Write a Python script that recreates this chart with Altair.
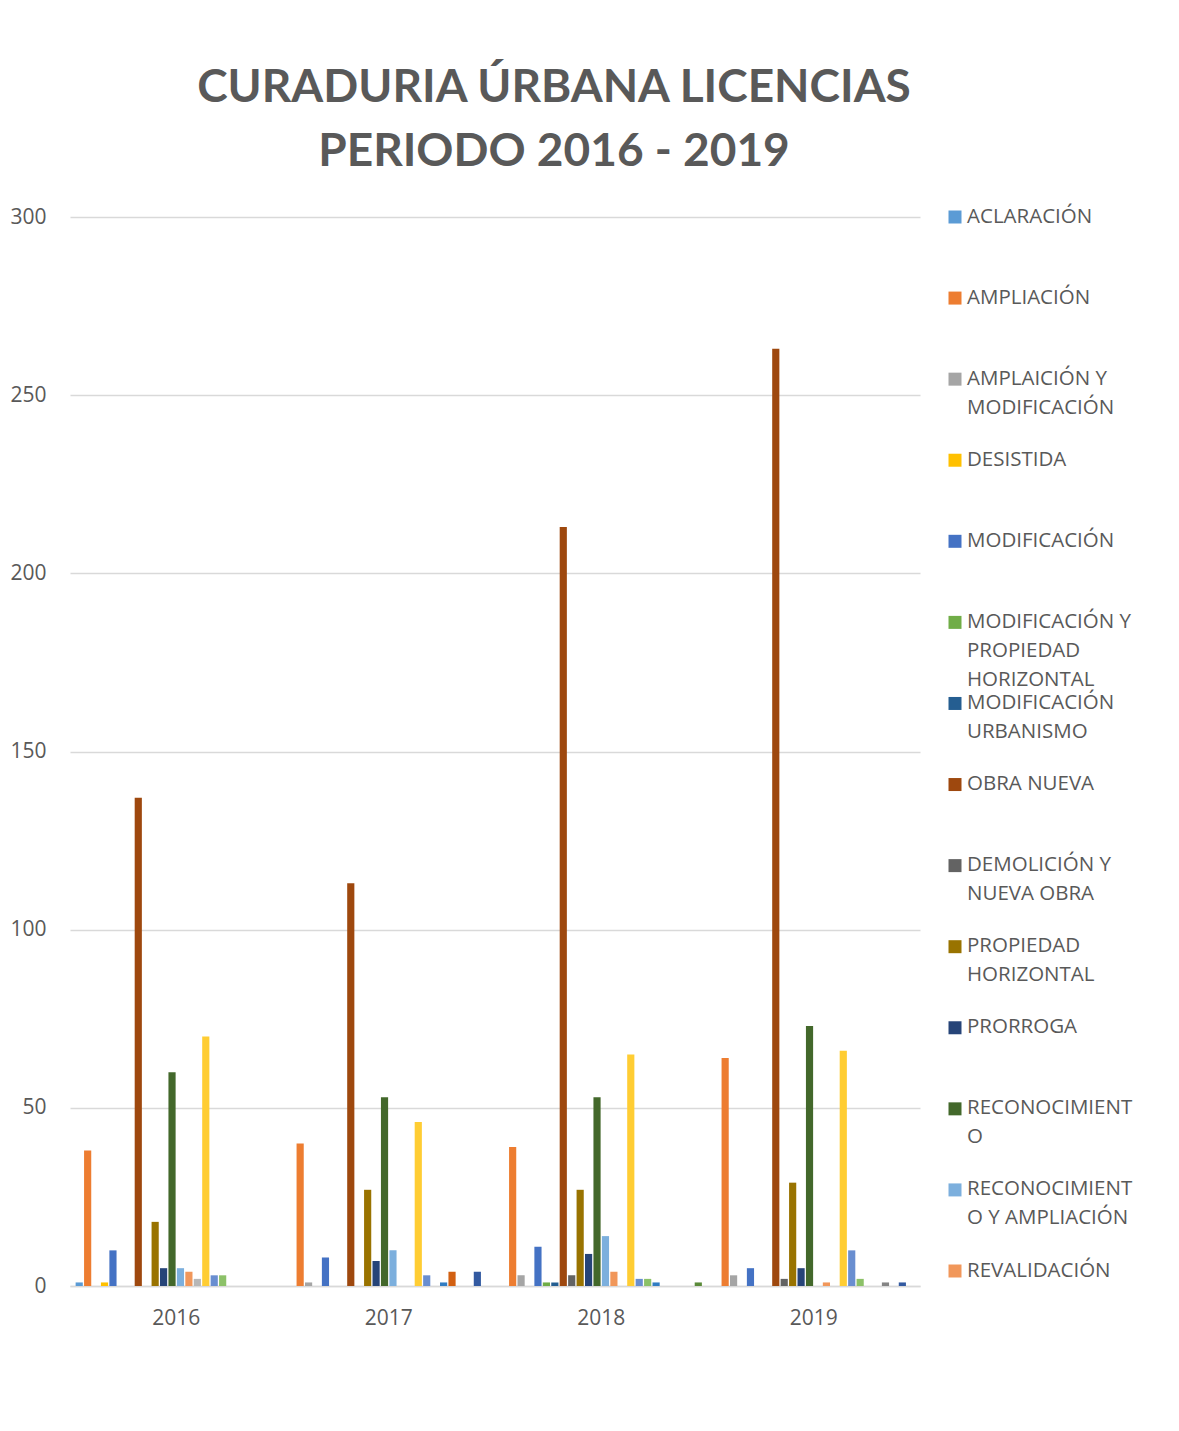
import altair as alt
import pandas as pd

years = ["2016", "2017", "2018", "2019"]

series = [
    "ACLARACIÓN", "AMPLIACIÓN", "AMPLAICIÓN Y MODIFICACIÓN", "DESISTIDA",
    "MODIFICACIÓN", "MODIFICACIÓN Y PROPIEDAD HORIZONTAL", "MODIFICACIÓN URBANISMO",
    "OBRA NUEVA", "DEMOLICIÓN Y NUEVA OBRA", "PROPIEDAD HORIZONTAL", "PRORROGA",
    "RECONOCIMIENTO", "RECONOCIMIENTO Y AMPLIACIÓN", "REVALIDACIÓN",
    "SERIE 15", "SERIE 16", "SERIE 17", "SERIE 18", "SERIE 19",
    "SERIE 20", "SERIE 21", "SERIE 22", "SERIE 23", "SERIE 24",
]

colors = [
    "#5B9BD5", "#ED7D31", "#A5A5A5", "#FFC000", "#4472C4", "#70AD47",
    "#255E91", "#9E480E", "#636363", "#997300", "#264478", "#43682B",
    "#7CAFDD", "#F1975A", "#B7B7B7", "#FFCD33", "#698ED0", "#8CC168",
    "#327DC2", "#D26012", "#848484", "#CC9A00", "#335AA1", "#5A8A39",
]

v2016 = [1, 38, 0, 1, 10, 0, 0, 137, 0, 18, 5, 60, 5, 4, 2, 70, 3, 3, 0, 0, 0, 0, 0, 0]
v2017 = [0, 40, 1, 0, 8, 0, 0, 113, 0, 27, 7, 53, 10, 0, 0, 46, 3, 0, 1, 4, 0, 0, 4, 0]
v2018 = [0, 39, 3, 0, 11, 1, 1, 213, 3, 27, 9, 53, 14, 4, 0, 65, 2, 2, 1, 0, 0, 0, 0, 1]
v2019 = [0, 64, 3, 0, 5, 0, 0, 263, 2, 29, 5, 73, 0, 1, 0, 66, 10, 2, 0, 0, 1, 0, 1, 0]

legend_names = series[:14]
legend_labels = [
    "ACLARACIÓN", "AMPLIACIÓN", "AMPLAICIÓN Y|MODIFICACIÓN", "DESISTIDA",
    "MODIFICACIÓN", "MODIFICACIÓN Y|PROPIEDAD|HORIZONTAL", "MODIFICACIÓN|URBANISMO",
    "OBRA NUEVA", "DEMOLICIÓN Y|NUEVA OBRA", "PROPIEDAD|HORIZONTAL", "PRORROGA",
    "RECONOCIMIENT|O", "RECONOCIMIENT|O Y AMPLIACIÓN", "REVALIDACIÓN",
]

rows = []
for year, vals in zip(years, [v2016, v2017, v2018, v2019]):
    for name, v in zip(series, vals):
        rows.append({"year": year, "serie": name, "value": v})
df = pd.DataFrame(rows)

leg_df = pd.DataFrame({"serie": legend_names, "label": legend_labels})

TXT = "#595959"
GRID = "#D9D9D9"
FONT = "Open Sans"

color_scale = alt.Scale(domain=series, range=colors)

main = alt.Chart(df).mark_bar().encode(
    x=alt.X("year:N", sort=years, title=None,
            scale=alt.Scale(paddingInner=0.047, paddingOuter=0.0235),
            axis=alt.Axis(labelAngle=0, ticks=False, domainColor=GRID, domainWidth=1.5,
                          labelFontSize=21, labelColor=TXT, labelFont=FONT,
                          labelPadding=21, grid=False)),
    xOffset=alt.XOffset("serie:N", sort=series,
                        scale=alt.Scale(domain=series, paddingInner=0.15, paddingOuter=0.075)),
    y=alt.Y("value:Q", title=None,
            scale=alt.Scale(domain=[0, 300], nice=False),
            axis=alt.Axis(values=[0, 50, 100, 150, 200, 250, 300], ticks=False, domain=False,
                          gridColor=GRID, gridWidth=1.3, labelFontSize=21, labelColor=TXT,
                          labelFont=FONT, labelPadding=24, minExtent=62, maxExtent=62)),
    color=alt.Color("serie:N", scale=color_scale, legend=None),
).properties(width=850, height=1069)

leg_base = alt.Chart(leg_df).encode(
    y=alt.Y("serie:N", sort=legend_names, axis=None,
            scale=alt.Scale(type="point", padding=0)),
)
leg_sym = leg_base.mark_square(size=169, opacity=1, dy=-2).encode(
    x=alt.value(15),
    color=alt.Color("serie:N", scale=color_scale, legend=None),
)
leg_txt = leg_base.mark_text(align="left", baseline="alphabetic", dy=5.5, lineBreak="|",
                             lineHeight=29, fontSize=20.5, font=FONT, color=TXT).encode(
    x=alt.value(27),
    text="label:N",
)
legend = alt.layer(leg_sym, leg_txt).properties(width=220, height=1054)

chart = alt.hconcat(main, legend, spacing=20, bounds="flush").properties(
    title=alt.Title(["CURADURIA ÚRBANA LICENCIAS", "PERIODO 2016 - 2019"],
                    font="Lato", fontSize=46, fontWeight="bold", color=TXT,
                    lineHeight=64, anchor="middle", dx=-30, offset=30),
    padding={"left": 0, "top": 57, "right": 0, "bottom": 40},
).configure_view(stroke=None)

chart.save("out.html", embed_options={"renderer": "svg", "actions": False})
